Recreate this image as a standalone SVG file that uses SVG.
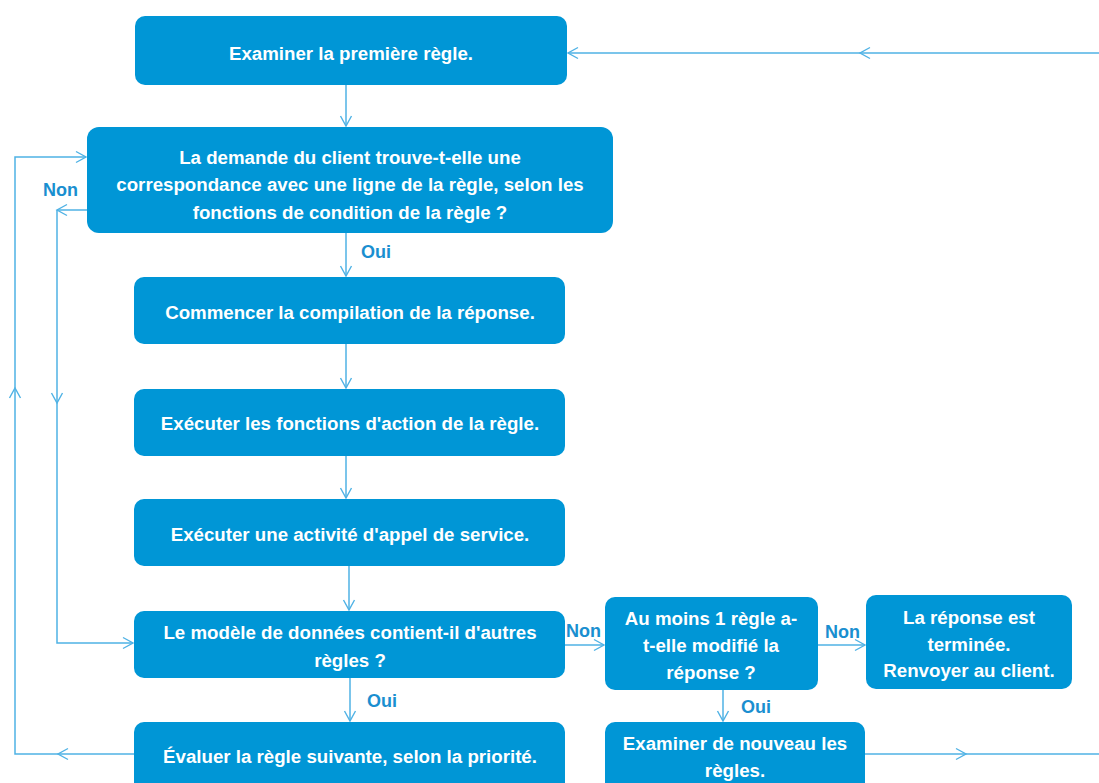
<svg xmlns="http://www.w3.org/2000/svg" width="1099" height="783" viewBox="0 0 1099 783">
<defs>
<marker id="arr" markerWidth="14" markerHeight="14" refX="12" refY="7" orient="auto" markerUnits="userSpaceOnUse">
<path d="M2,1.5 L12,7 L2,12.5" fill="none" stroke="#4fb2e5" stroke-width="1.4"/>
</marker>
<style>
.box{fill:#0096d6;}
.t{font-family:"Liberation Sans",Arial,sans-serif;font-weight:bold;font-size:18.7px;fill:#ffffff;text-anchor:middle;}
.c{fill:none;stroke:#4fb2e5;stroke-width:1.5;}
.a{marker-end:url(#arr);}
.lbl{font-family:"Liberation Sans",Arial,sans-serif;font-weight:bold;font-size:18px;fill:#1a8fd0;}
</style>
</defs>
<rect width="1099" height="783" fill="#ffffff"/>
<g id="connectors">
<path class="c a" d="M346,85 V126"/>
<path class="c a" d="M346,233 V276"/>
<path class="c a" d="M346,344 V388"/>
<path class="c a" d="M346,456 V498"/>
<path class="c a" d="M349,566 V610"/>
<path class="c a" d="M350,678 V721"/>
<path class="c a" d="M565,645 H604"/>
<path class="c a" d="M818,645 H865"/>
<path class="c a" d="M723,690 V721"/>
<path class="c a" d="M865,754 H966"/>
<path class="c" d="M966,754 H1099"/>
<path class="c a" d="M1099,53 H860"/>
<path class="c a" d="M860,53 H568"/>
<path class="c a" d="M134,754 H58"/>
<path class="c a" d="M58,754 H15 V388"/>
<path class="c a" d="M15,388 V157 H86"/>
<path class="c a" d="M87,210 H57"/>
<path class="c a" d="M57,210 V403"/>
<path class="c a" d="M57,403 V643 H133"/>
<text class="lbl" x="43" y="196">Non</text>
<text class="lbl" x="361" y="258">Oui</text>
<text class="lbl" x="367" y="707">Oui</text>
<text class="lbl" x="566" y="637">Non</text>
<text class="lbl" x="825" y="638">Non</text>
<text class="lbl" x="741" y="713">Oui</text>
</g>
<g id="n1"><rect class="box" x="135" y="16" width="432" height="69" rx="10"/><text class="t" x="351" y="60">Examiner la première règle.</text></g>
<g id="n2"><rect class="box" x="87" y="127" width="526" height="106" rx="12"/>
<text class="t" x="350" y="164">La demande du client trouve-t-elle une</text>
<text class="t" x="350" y="191">correspondance avec une ligne de la règle, selon les</text>
<text class="t" x="350" y="219">fonctions de condition de la règle ?</text></g>
<g id="n3"><rect class="box" x="134" y="277" width="431" height="67" rx="10"/><text class="t" x="350" y="319">Commencer la compilation de la réponse.</text></g>
<g id="n4"><rect class="box" x="134" y="389" width="431" height="67" rx="10"/><text class="t" x="350" y="430">Exécuter les fonctions d'action de la règle.</text></g>
<g id="n5"><rect class="box" x="134" y="499" width="431" height="67" rx="10"/><text class="t" x="350" y="541">Exécuter une activité d'appel de service.</text></g>
<g id="n6"><rect class="box" x="134" y="611" width="431" height="67" rx="10"/>
<text class="t" x="350" y="639">Le modèle de données contient-il d'autres</text>
<text class="t" x="350" y="667">règles ?</text></g>
<g id="n7"><rect class="box" x="134" y="722" width="431" height="75" rx="10"/><text class="t" x="350" y="763">Évaluer la règle suivante, selon la priorité.</text></g>
<g id="n8"><rect class="box" x="605" y="597" width="213" height="93" rx="10"/>
<text class="t" x="711" y="625">Au moins 1 règle a-</text>
<text class="t" x="711" y="652">t-elle modifié la</text>
<text class="t" x="711" y="679">réponse ?</text></g>
<g id="n9"><rect class="box" x="866" y="595" width="206" height="94" rx="10"/>
<text class="t" x="969" y="624">La réponse est</text>
<text class="t" x="969" y="651">terminée.</text>
<text class="t" x="969" y="677">Renvoyer au client.</text></g>
<g id="n10"><rect class="box" x="605" y="722" width="260" height="75" rx="10"/>
<text class="t" x="735" y="750">Examiner de nouveau les</text>
<text class="t" x="735" y="777">règles.</text></g>
</svg>
